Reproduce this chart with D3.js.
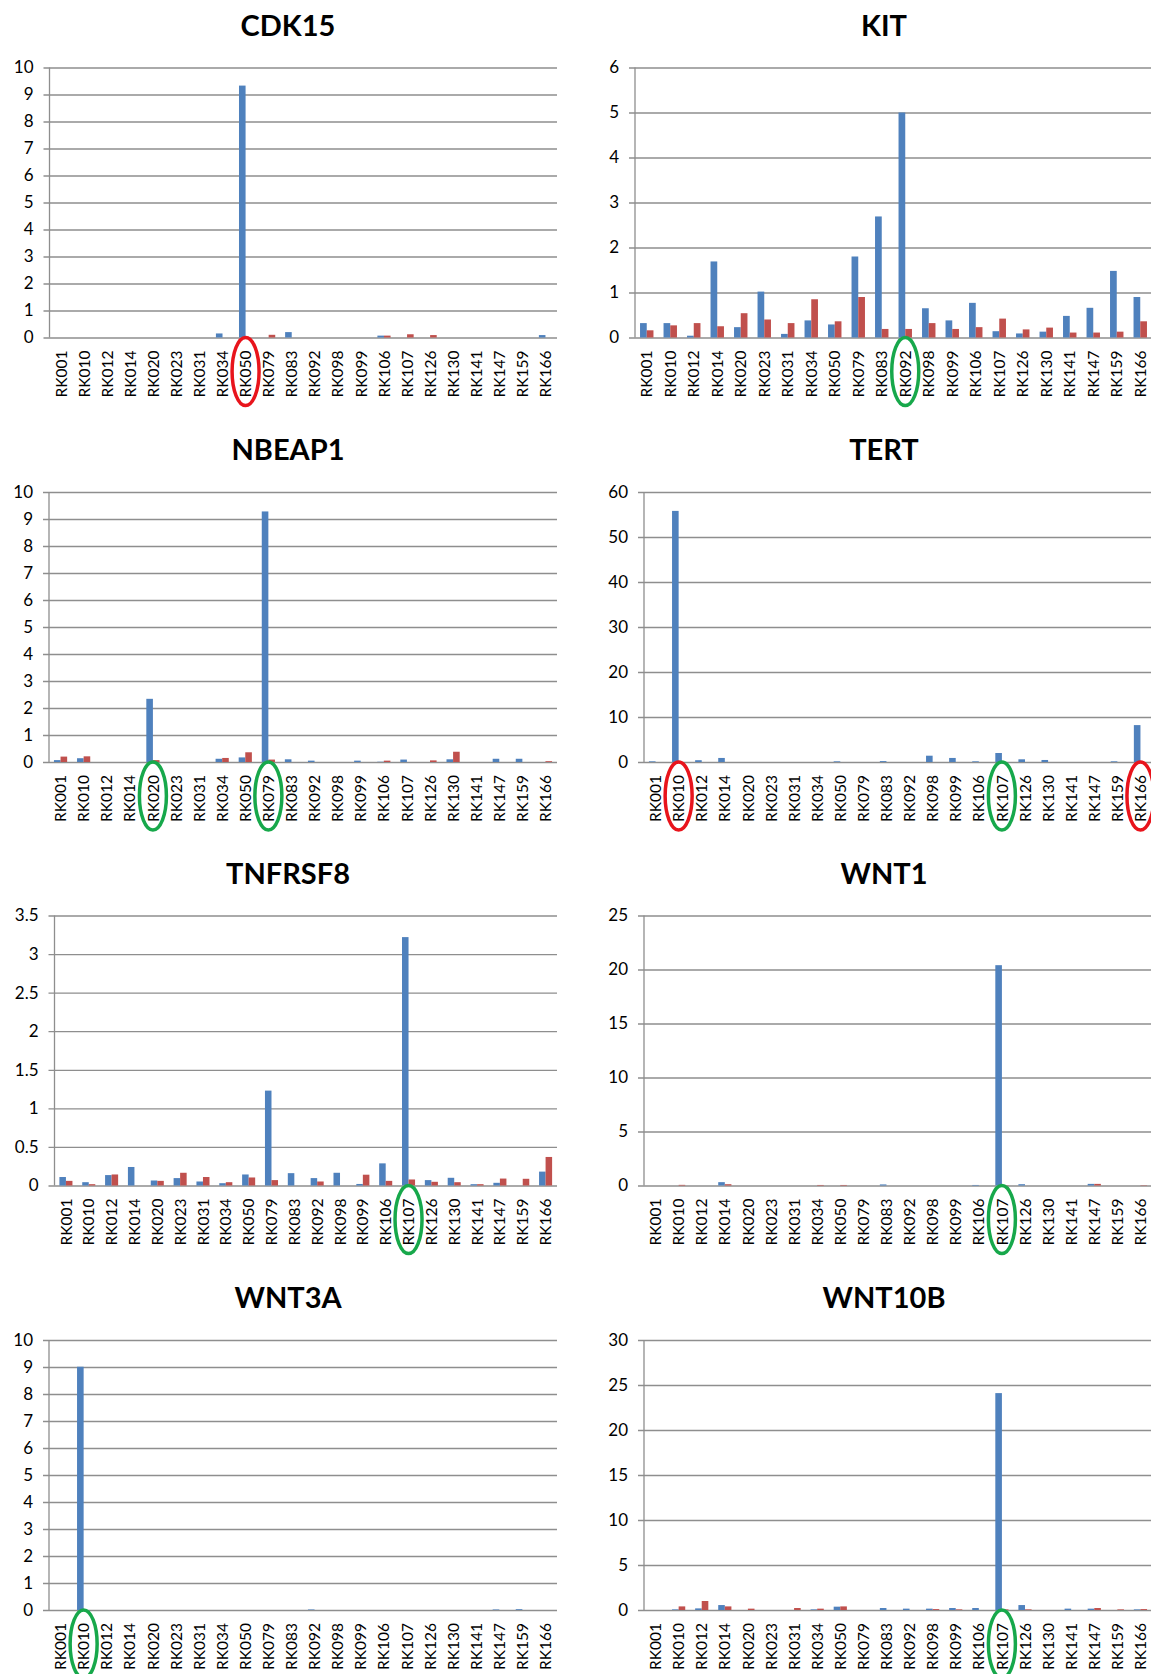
<!DOCTYPE html>
<html>
<head>
<meta charset="utf-8">
<script src="https://cdn.jsdelivr.net/npm/d3@7"></script>
<style>
  html, body { margin: 0; padding: 0; background: #fff; }
  svg { display: block; font-family: Lato, "Open Sans", sans-serif; }
  .title { font-weight: 700; font-size: 29px; fill: #000; }
  .ytick text { font-size: 17px; fill: #000; }
  .xtick text { font-size: 15.5px; fill: #000; }
</style>
</head>
<body>
<div id="chart"></div>
<script>
// === data ===
const categories = ["RK001", "RK010", "RK012", "RK014", "RK020", "RK023", "RK031", "RK034", "RK050", "RK079", "RK083",
  "RK092", "RK098", "RK099", "RK106", "RK107", "RK126", "RK130", "RK141", "RK147", "RK159", "RK166"];

const cdk15Blue = [0, 0, 0, 0, 0, 0, 0, 0.15, 9.33, 0, 0.2, 0, 0, 0, 0.07, 0, 0, 0, 0, 0, 0, 0.09];
const cdk15Red  = [0, 0, 0, 0, 0, 0, 0, 0, 0, 0.1, 0, 0, 0, 0, 0.07, 0.12, 0.09, 0, 0, 0, 0, 0];

const kitBlue = [0.32, 0.32, 0.04, 1.69, 0.23, 1.02, 0.08, 0.38, 0.29, 1.8, 2.69, 5.0, 0.65, 0.38, 0.77, 0.14, 0.09, 0.13, 0.48, 0.66, 1.48, 0.9];
const kitRed  = [0.16, 0.27, 0.32, 0.25, 0.54, 0.4, 0.32, 0.85, 0.36, 0.9, 0.19, 0.19, 0.32, 0.19, 0.23, 0.42, 0.18, 0.22, 0.11, 0.11, 0.13, 0.36];

const nbeap1Blue = [0.07, 0.14, 0, 0, 2.34, 0, 0, 0.12, 0.17, 9.28, 0.1, 0.05, 0, 0.05, 0.01, 0.09, 0, 0.1, 0, 0.12, 0.12, 0];
const nbeap1Red  = [0.2, 0.21, 0, 0, 0.07, 0, 0, 0.15, 0.36, 0.09, 0, 0, 0, 0, 0.05, 0, 0.06, 0.38, 0, 0, 0, 0.03];

const tertBlue = [0.15, 55.8, 0.4, 0.9, 0, 0, 0, 0, 0.15, 0, 0.2, 0, 1.4, 0.9, 0.15, 2.0, 0.6, 0.45, 0, 0, 0.15, 8.2];
const tertRed  = [0, 0, 0, 0, 0, 0, 0, 0, 0, 0, 0, 0, 0, 0, 0, 0, 0, 0, 0, 0, 0, 0];

const tnfrsf8Blue = [0.11, 0.043, 0.135, 0.24, 0.065, 0.096, 0.052, 0.03, 0.143, 1.23, 0.16, 0.096, 0.165, 0.02, 0.287, 3.22, 0.07, 0.1, 0.017, 0.035, 0, 0.18];
const tnfrsf8Red  = [0.06, 0.017, 0.143, 0, 0.06, 0.165, 0.11, 0.043, 0.104, 0.07, 0, 0.052, 0, 0.14, 0.06, 0.078, 0.048, 0.043, 0.017, 0.09, 0.087, 0.37];

const wnt1Blue = [0, 0, 0, 0.31, 0, 0, 0, 0, 0, 0, 0.1, 0, 0, 0, 0.05, 20.4, 0.12, 0, 0, 0.15, 0, 0];
const wnt1Red  = [0, 0.06, 0, 0.12, 0, 0, 0, 0.05, 0.05, 0, 0, 0, 0, 0, 0, 0.03, 0, 0, 0, 0.15, 0, 0.03];

const wnt3aBlue = [0, 9.01, 0, 0, 0, 0, 0, 0, 0, 0, 0, 0.02, 0, 0, 0, 0, 0, 0, 0, 0.02, 0.03, 0];
const wnt3aRed  = [0, 0, 0, 0, 0, 0, 0, 0, 0, 0, 0, 0, 0, 0, 0, 0, 0, 0, 0, 0, 0, 0];

const wnt10bBlue = [0, 0.07, 0.18, 0.55, 0, 0, 0, 0.07, 0.37, 0, 0.22, 0.15, 0.15, 0.22, 0.22, 24.1, 0.55, 0, 0.15, 0.15, 0, 0.07];
const wnt10bRed  = [0, 0.4, 1.0, 0.4, 0.15, 0, 0.22, 0.15, 0.4, 0, 0, 0, 0.1, 0.07, 0, 0.07, 0.07, 0, 0, 0.22, 0.07, 0.1];

// gene, series, y max, y step, circled samples
const charts = [
  { title: "CDK15",   blue: cdk15Blue,   red: cdk15Red,   max: 10,  step: 1,   marks: [["RK050", "red"]] },
  { title: "KIT",     blue: kitBlue,     red: kitRed,     max: 6,   step: 1,   marks: [["RK092", "green"]] },
  { title: "NBEAP1",  blue: nbeap1Blue,  red: nbeap1Red,  max: 10,  step: 1,   marks: [["RK020", "green"], ["RK079", "green"]] },
  { title: "TERT",    blue: tertBlue,    red: tertRed,    max: 60,  step: 10,  marks: [["RK010", "red"], ["RK107", "green"], ["RK166", "red"]] },
  { title: "TNFRSF8", blue: tnfrsf8Blue, red: tnfrsf8Red, max: 3.5, step: 0.5, marks: [["RK107", "green"]] },
  { title: "WNT1",    blue: wnt1Blue,    red: wnt1Red,    max: 25,  step: 5,   marks: [["RK107", "green"]] },
  { title: "WNT3A",   blue: wnt3aBlue,   red: wnt3aRed,   max: 10,  step: 1,   marks: [["RK010", "green"]] },
  { title: "WNT10B",  blue: wnt10bBlue,  red: wnt10bRed,  max: 30,  step: 5,   marks: [["RK107", "green"]] },
];

// ---- layout ----
const W = 1151, H = 1674;
const rowTop = [67.5, 492, 915.5, 1340];
const plotH = 270;
const plotLeft = [49.5, 635, 49, 644, 54.5, 644, 49, 644];
const plotRight = [557, 1152];
const titleX = [288, 884];
const colors = { blue: "#4f81bd", red: "#c0504d" };
const ringColors = { red: "#e8141c", green: "#17a84b" };
const gridColor = "#8e8e8e";

const svg = d3.select("#chart").append("svg")
  .attr("width", W).attr("height", H)
  .attr("viewBox", [0, 0, W, H].join(" "));

svg.append("rect").attr("width", W).attr("height", H).attr("fill", "#fff");

charts.forEach((c, i) => {
  const col = i % 2, row = Math.floor(i / 2);
  const left = plotLeft[i], right = plotRight[col];
  const top = rowTop[row], bottom = top + plotH;

  const g = svg.append("g");

  const x0 = d3.scaleBand().domain(categories).range([left, right])
    .paddingInner(1.5 / 3.5).paddingOuter(0.75 / 3.5);
  const x1 = d3.scaleBand().domain(["blue", "red"]).range([0, x0.bandwidth()]);
  const y = d3.scaleLinear().domain([0, c.max]).range([bottom, top]);
  const ticks = d3.range(0, c.max + c.step / 2, c.step);

  // title
  g.append("text").attr("class", "title")
    .attr("x", titleX[col]).attr("y", top - 32)
    .attr("text-anchor", "middle").text(c.title);

  // y axis + gridlines
  const yAxis = g.append("g").attr("class", "ytick")
    .attr("transform", `translate(${left - 6},0)`)
    .call(d3.axisLeft(y).tickValues(ticks).tickFormat(d3.format("~g"))
      .tickSizeInner(-(Math.min(right, W) - left + 6)).tickSizeOuter(0).tickPadding(10));
  yAxis.select(".domain").remove();
  yAxis.selectAll("line").attr("stroke", gridColor).attr("stroke-width", 1.3);
  yAxis.selectAll("text").attr("font-family", "Lato, 'Open Sans', sans-serif");

  g.append("line")
    .attr("x1", left).attr("x2", left).attr("y1", top).attr("y2", bottom)
    .attr("stroke", gridColor).attr("stroke-width", 1.3);

  // bars
  const rows = categories.map((k, j) => ({ k, blue: c.blue[j], red: c.red[j] }));
  g.append("g").selectAll("g").data(rows).join("g")
    .attr("transform", d => `translate(${x0(d.k)},0)`)
    .selectAll("rect")
    .data(d => ["blue", "red"].map(s => ({ s, v: d[s] })))
    .join("rect")
    .attr("x", d => x1(d.s))
    .attr("width", x1.bandwidth())
    .attr("y", d => y(d.v))
    .attr("height", d => bottom - y(d.v))
    .attr("fill", d => colors[d.s]);

  // category labels
  const xAxis = g.append("g").attr("class", "xtick")
    .attr("transform", `translate(0,${bottom})`)
    .call(d3.axisBottom(x0).tickSize(0));
  xAxis.select(".domain").remove();
  xAxis.selectAll("text")
    .attr("font-family", "Lato, 'Open Sans', sans-serif")
    .attr("transform", "rotate(-90)")
    .attr("text-anchor", "end")
    .attr("x", -13).attr("y", 0).attr("dy", "0.36em");

  // circled samples
  g.append("g").selectAll("ellipse").data(c.marks).join("ellipse")
    .attr("cx", d => x0(d[0]) + x0.bandwidth() / 2)
    .attr("cy", bottom + 34)
    .attr("rx", 13.5).attr("ry", 34)
    .attr("fill", "none")
    .attr("stroke", d => ringColors[d[1]])
    .attr("stroke-width", 3.5);
});
</script>
</body>
</html>
